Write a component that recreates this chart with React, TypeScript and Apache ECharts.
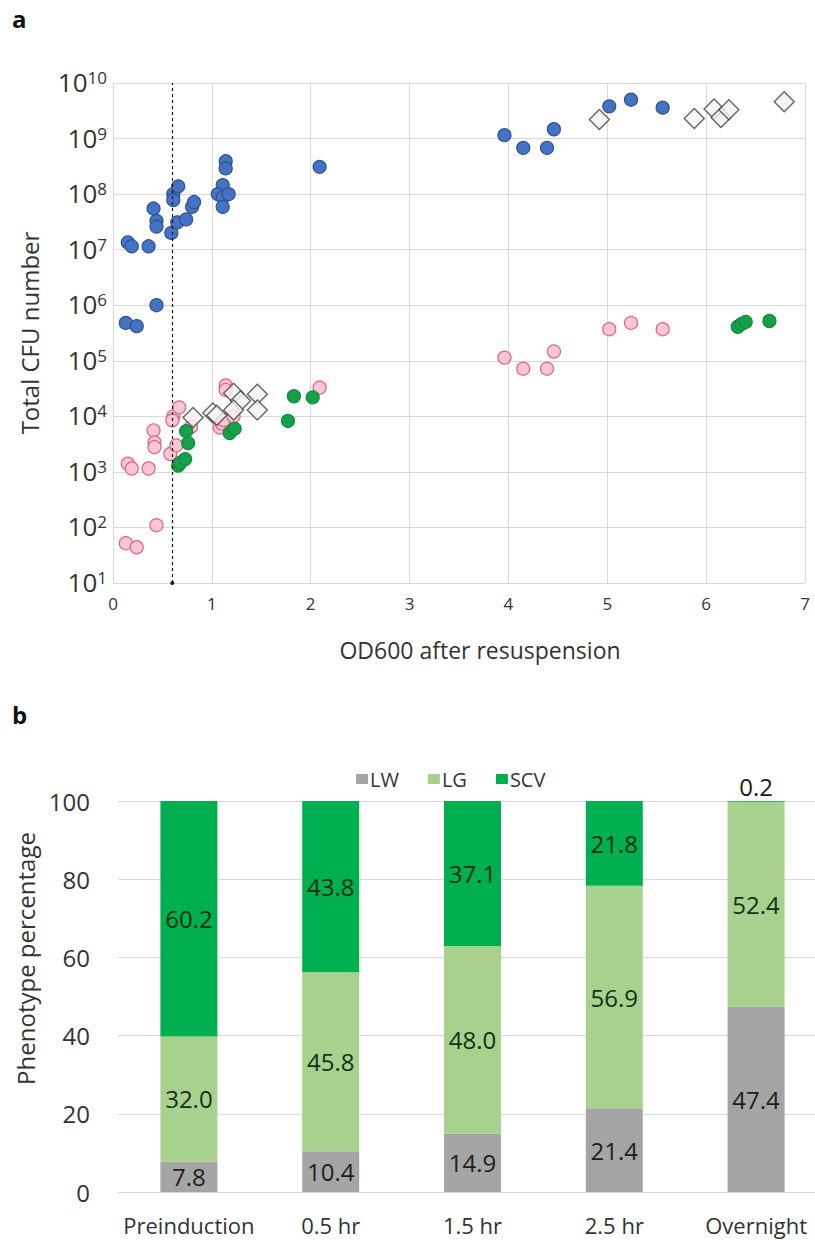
import React, { useEffect, useRef } from "react";
import * as echarts from "echarts";

// ---- Panel a: OD600 after resuspension vs Total CFU number ----
const bluePoints: [number, number][] = [
  [0.13, 4.8e5], [0.24, 4.2e5], [0.44, 1.0e6], [0.15, 1.35e7], [0.19, 1.15e7],
  [0.36, 1.15e7], [0.41, 5.5e7], [0.44, 3.3e7], [0.44, 2.6e7], [0.59, 2.0e7],
  [0.61, 1.0e8], [0.61, 7.8e7], [0.66, 1.38e8], [0.65, 3.1e7], [0.74, 3.5e7],
  [0.8, 5.9e7], [0.82, 7.2e7], [1.11, 1.45e8], [1.06, 1.0e8], [1.11, 8.7e7],
  [1.17, 1.0e8], [1.11, 5.9e7], [1.14, 3.9e8], [1.14, 2.9e8], [2.09, 3.1e8],
  [3.96, 1.15e9], [4.15, 6.8e8], [4.39, 6.8e8], [4.46, 1.47e9], [5.02, 3.8e9],
  [5.24, 5.0e9], [5.56, 3.6e9],
];
const pinkPoints: [number, number][] = [
  [0.13, 52], [0.24, 44], [0.44, 110], [0.15, 1.4e3], [0.19, 1.15e3],
  [0.36, 1.15e3], [0.41, 5.6e3], [0.42, 3.4e3], [0.42, 2.8e3], [0.58, 2.1e3],
  [0.64, 3.0e3], [0.61, 1.0e4], [0.6, 8.5e3], [0.67, 1.45e4], [0.79, 6.5e3],
  [1.08, 6.3e3], [1.1, 7.5e3], [1.12, 8.5e3], [1.22, 1.0e4], [1.14, 3.6e4],
  [1.14, 3.0e4], [2.09, 3.3e4], [3.96, 1.14e5], [4.15, 7.2e4], [4.39, 7.2e4],
  [4.46, 1.47e5], [5.02, 3.7e5], [5.24, 4.8e5], [5.56, 3.7e5],
];
const greenPoints: [number, number][] = [
  [0.66, 1.3e3], [0.68, 1.45e3], [0.73, 1.7e3], [0.76, 3.3e3], [0.74, 5.4e3],
  [1.18, 5.0e3], [1.23, 6.0e3], [1.77, 8.3e3], [1.83, 2.3e4], [2.02, 2.2e4],
  [6.32, 4.1e5], [6.36, 4.6e5], [6.4, 5.0e5], [6.64, 5.2e5],
];
const diamondPoints: [number, number][] = [
  [0.81, 9.5e3], [1.01, 1.15e4], [1.05, 1.05e4], [1.22, 2.6e4], [1.29, 1.9e4],
  [1.22, 1.3e4], [1.46, 2.5e4], [1.46, 1.3e4], [4.92, 2.2e9], [5.88, 2.3e9],
  [6.08, 3.4e9], [6.15, 2.4e9], [6.23, 3.3e9], [6.79, 4.6e9],
];
const odThreshold = 0.6;

// ---- Panel b: phenotype percentages ----
const categories = ["Preinduction", "0.5 hr", "1.5 hr", "2.5 hr", "Overnight"];
const lwValues = [7.8, 10.4, 14.9, 21.4, 47.4];
const lgValues = [32.0, 45.8, 48.0, 56.9, 52.4];
const scvValues = [60.2, 43.8, 37.1, 21.8, 0.2];

const FONT = "'Open Sans', 'Noto Sans', sans-serif";
const TXT = "#333333";
const GRIDC = "#d9d9d9";

function barData(values: number[]) {
  return values.map((v) =>
    v < 3
      ? { value: v, label: { position: "top", color: "#1a1a1a", distance: 3 } }
      : v
  );
}

export default function App() {
  const ref = useRef<HTMLDivElement>(null);
  useEffect(() => {
    document.body.style.margin = "0";
    const chart = echarts.init(ref.current!, null, { renderer: "svg" });
    const circle = (fill: string, border: string) => ({
      color: fill,
      borderColor: border,
      borderWidth: 1.2,
      opacity: 1,
    });
    const barLabel = (color: string) => ({
      show: true,
      position: "inside",
      fontSize: 24,
      fontFamily: FONT,
      color,
      formatter: (p: any) => Number(p.value).toFixed(1),
    });
    chart.setOption({
      animation: false,
      backgroundColor: "#ffffff",
      textStyle: { fontFamily: FONT },
      graphic: [
        { type: "text", style: { text: "a", x: 12, y: 18, font: `bold 24px ${FONT}`, fill: "#111", verticalAlign: "middle" } },
        { type: "text", style: { text: "b", x: 12, y: 714, font: `bold 24px ${FONT}`, fill: "#111", verticalAlign: "middle" } },
      ],
      legend: {
        left: 351,
        top: 764,
        itemWidth: 12,
        itemHeight: 10,
        itemGap: 29,
        icon: "rect",
        textStyle: { fontSize: 20, color: TXT, fontFamily: FONT, padding: [0, 0, 0, -3] },
        data: ["LW", "LG", "SCV"],
      },
      grid: [
        { left: 113, top: 83, width: 692, height: 500, outerBoundsMode: "none", containLabel: false },
        { left: 118, top: 801, width: 709, height: 391, outerBoundsMode: "none", containLabel: false },
      ],
      xAxis: [
        {
          gridIndex: 0,
          type: "value",
          min: 0,
          max: 7,
          interval: 1,
          axisLine: { show: false },
          axisTick: { show: false },
          splitLine: { show: true, lineStyle: { color: GRIDC, width: 1 } },
          axisLabel: { fontSize: 17, color: TXT, margin: 12, fontFamily: FONT },
          name: "OD600 after resuspension",
          nameLocation: "middle",
          nameGap: 55,
          nameTextStyle: { fontSize: 23, color: TXT, fontFamily: FONT, padding: [0, 0, 0, 42] },
        },
        {
          gridIndex: 1,
          type: "category",
          data: categories,
          axisLine: { show: true, lineStyle: { color: GRIDC } },
          axisTick: { show: false },
          axisLabel: { fontSize: 22, color: TXT, margin: 22, fontFamily: FONT, interval: 0 },
        },
      ],
      yAxis: [
        {
          gridIndex: 0,
          type: "log",
          logBase: 10,
          min: 10,
          max: 1e10,
          splitNumber: 9,
          axisLine: { show: false },
          axisTick: { show: false },
          splitLine: { show: true, lineStyle: { color: GRIDC, width: 1 } },
          axisLabel: {
            margin: 6,
            formatter: (v: number) => `{b|10}{s|${Math.round(Math.log10(v))}}`,
            rich: {
              b: { fontSize: 26, color: TXT, fontFamily: FONT, lineHeight: 28, padding: [0, 0, 10, 0], verticalAlign: "top" },
              s: { fontSize: 17, color: TXT, fontFamily: FONT, lineHeight: 18, verticalAlign: "top" },
            },
          },
          name: "Total CFU number",
          nameLocation: "middle",
          nameGap: 72,
          nameTextStyle: { fontSize: 24, color: TXT, fontFamily: FONT },
        },
        {
          gridIndex: 1,
          type: "value",
          min: 0,
          max: 100,
          interval: 20,
          axisLine: { show: false },
          axisTick: { show: false },
          splitLine: { show: true, lineStyle: { color: GRIDC, width: 1 } },
          axisLabel: { fontSize: 24, color: TXT, margin: 28, fontFamily: FONT },
          name: "Phenotype percentage",
          nameLocation: "middle",
          nameGap: 78,
          nameTextStyle: { fontSize: 24, color: TXT, fontFamily: FONT, padding: [0, 0, 0, 76] },
        },
      ],
      series: [
        {
          name: "pink",
          type: "scatter",
          xAxisIndex: 0,
          yAxisIndex: 0,
          symbol: "circle",
          symbolSize: 13,
          itemStyle: circle("#f9c6d6", "#e2607f"),
          data: pinkPoints,
          markLine: {
            silent: true,
            symbol: ["circle", "none"],
            symbolSize: 4,
            label: { show: false },
            lineStyle: { color: "#111", type: [3, 3], width: 1.2 },
            data: [{ xAxis: odThreshold }],
          },
        },
        {
          name: "green",
          type: "scatter",
          xAxisIndex: 0,
          yAxisIndex: 0,
          symbol: "circle",
          symbolSize: 13,
          itemStyle: circle("#17a04a", "#0f8a3c"),
          data: greenPoints,
        },
        {
          name: "blue",
          type: "scatter",
          xAxisIndex: 0,
          yAxisIndex: 0,
          symbol: "circle",
          symbolSize: 13,
          itemStyle: circle("#4472c4", "#2f528f"),
          data: bluePoints,
        },
        {
          name: "diamond",
          type: "scatter",
          xAxisIndex: 0,
          yAxisIndex: 0,
          symbol: "diamond",
          symbolSize: 20,
          itemStyle: { color: "#f2f2f2", borderColor: "#404040", borderWidth: 1.4 },
          data: diamondPoints,
        },
        {
          name: "LW",
          type: "bar",
          xAxisIndex: 1,
          yAxisIndex: 1,
          stack: "total",
          barWidth: 57,
          itemStyle: { color: "#a5a5a5" },
          label: barLabel("#1e1e1e"),
          data: barData(lwValues),
        },
        {
          name: "LG",
          type: "bar",
          xAxisIndex: 1,
          yAxisIndex: 1,
          stack: "total",
          barWidth: 57,
          itemStyle: { color: "#a9d18e" },
          label: barLabel("#12301a"),
          data: barData(lgValues),
        },
        {
          name: "SCV",
          type: "bar",
          xAxisIndex: 1,
          yAxisIndex: 1,
          stack: "total",
          barWidth: 57,
          itemStyle: { color: "#00b050" },
          label: barLabel("#0d2e14"),
          data: barData(scvValues),
        },
      ],
    });
    return () => chart.dispose();
  }, []);
  return (
    <div
      ref={ref}
      style={{ position: "absolute", left: 0, top: 0, width: 815, height: 1240, overflow: "hidden" }}
    />
  );
}
